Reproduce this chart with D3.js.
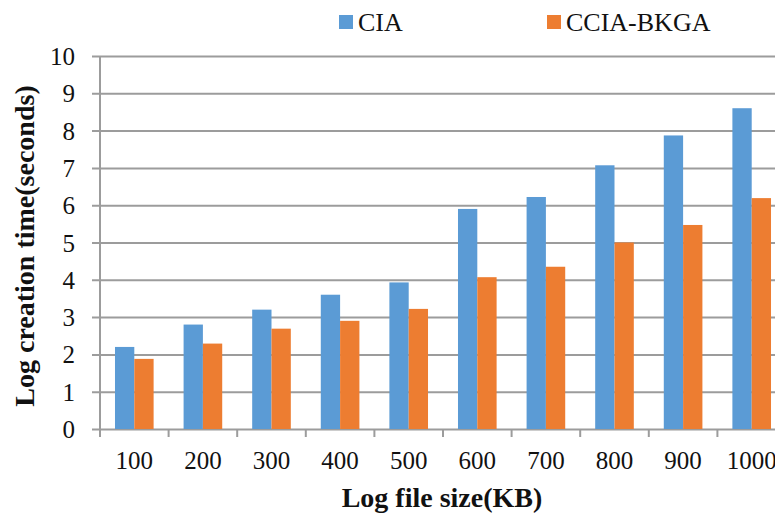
<!doctype html>
<html>
<head>
<meta charset="utf-8">
<style>
  body { margin: 0; background: #fff; }
  svg { display: block; }
  text { font-family: 'Liberation Serif', 'Times New Roman', serif; fill: #111; }
  .grid line { stroke: #9c9c9c; stroke-width: 2; }
  .grid path { stroke-width: 0; }
  .tick-label { font-size: 25px; }
  .legend text { font-size: 26px; }
  .title { font-size: 28px; font-weight: bold; }
</style>
<script src="https://d3js.org/d3.v7.min.js"></script>
</head>
<body>
<svg width="775" height="519"></svg>
<script>
const categories = ['100', '200', '300', '400', '500', '600', '700', '800', '900', '1000'];
const seriesNames = ['CIA', 'CCIA-BKGA'];
const ciaValues = [2.2, 2.8, 3.2, 3.6, 3.93, 5.9, 6.22, 7.07, 7.87, 8.6];
const cciaValues = [1.88, 2.29, 2.69, 2.9, 3.22, 4.07, 4.35, 5.0, 5.47, 6.19];
const yTicks = [0, 1, 2, 3, 4, 5, 6, 7, 8, 9, 10];
const colors = ['#5b9bd5', '#ed7d31'];

const data = categories.map((c, i) => ({ cat: c, values: [ciaValues[i], cciaValues[i]] }));

const svg = d3.select('svg');

const plotLeft = 100, plotRight = 786, plotTop = 56, plotBottom = 429;

const x = d3.scaleBand()
    .domain(categories)
    .range([plotLeft, plotRight])
    .paddingInner(0.437)
    .paddingOuter(0.437 / 2);

const xSub = d3.scaleBand()
    .domain(seriesNames)
    .range([0, x.bandwidth()]);

const y = d3.scaleLinear()
    .domain([0, 10])
    .range([plotBottom, plotTop]);

// horizontal grid + y labels
const yAxis = svg.append('g')
    .attr('class', 'grid')
    .attr('transform', `translate(${plotLeft - 8}, 0)`)
    .call(d3.axisLeft(y)
        .tickValues(yTicks)
        .tickSize(-(plotRight - plotLeft + 8))
        .tickPadding(17));
yAxis.selectAll('text')
    .attr('class', 'tick-label')
    .attr('fill', '#111')
    .attr('dy', '0.34em');

// y axis line
svg.append('line')
    .attr('x1', plotLeft).attr('x2', plotLeft)
    .attr('y1', y(10)).attr('y2', plotBottom + 8)
    .attr('stroke', '#9c9c9c').attr('stroke-width', 2);

// x axis ticks at category boundaries
const gap = (x.step() - x.bandwidth()) / 2;
svg.append('g').selectAll('line')
    .data(categories)
    .enter().append('line')
    .attr('x1', d => x(d) - gap).attr('x2', d => x(d) - gap)
    .attr('y1', plotBottom).attr('y2', plotBottom + 8)
    .attr('stroke', '#9c9c9c').attr('stroke-width', 2);

// bars
const groups = svg.append('g').selectAll('g')
    .data(data)
    .enter().append('g')
    .attr('transform', d => `translate(${x(d.cat)}, 0)`);

groups.selectAll('rect')
    .data(d => d.values.map((v, i) => ({ name: seriesNames[i], value: v, idx: i })))
    .enter().append('rect')
    .attr('x', d => xSub(d.name))
    .attr('y', d => y(d.value))
    .attr('width', xSub.bandwidth())
    .attr('height', d => plotBottom - y(d.value))
    .attr('fill', d => colors[d.idx]);

// x labels
svg.append('g').selectAll('text')
    .data(categories)
    .enter().append('text')
    .attr('class', 'tick-label')
    .attr('x', d => x(d) + x.bandwidth() / 2)
    .attr('y', 469)
    .attr('text-anchor', 'middle')
    .text(d => d);

// axis titles
svg.append('text')
    .attr('class', 'title')
    .attr('x', 442)
    .attr('y', 507)
    .attr('text-anchor', 'middle')
    .text('Log file size(KB)');

svg.append('text')
    .attr('class', 'title')
    .attr('transform', 'translate(34, 246) rotate(-90)')
    .attr('text-anchor', 'middle')
    .text('Log creation time(seconds)');

// legend
const legendX = [339, 547];
const legend = svg.append('g').attr('class', 'legend').selectAll('g')
    .data(seriesNames)
    .enter().append('g')
    .attr('transform', (d, i) => `translate(${legendX[i]}, 15)`);
legend.append('rect')
    .attr('width', 14).attr('height', 14)
    .attr('fill', (d, i) => colors[i]);
legend.append('text')
    .attr('x', 19)
    .attr('y', 16)
    .text(d => d);
</script>
</body>
</html>
